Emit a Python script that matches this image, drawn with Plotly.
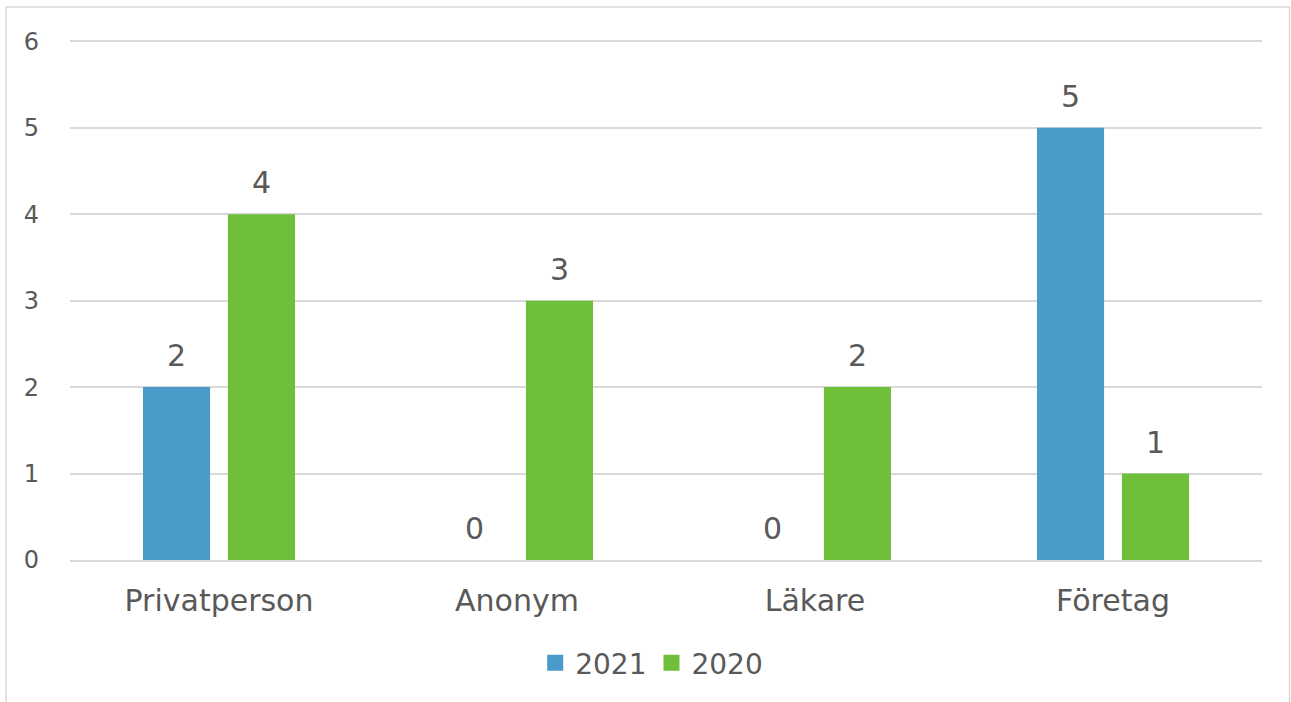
import plotly.graph_objects as go

categories = ["Privatperson", "Anonym", "Läkare", "Företag"]
series_2021 = [2, 0, 0, 5]
series_2020 = [4, 3, 2, 1]
y_ticks = [0, 1, 2, 3, 4, 5, 6]

BLUE = "#4A9BCA"
GREEN = "#6FBF3A"
TEXT = "#595959"
GRID = "#D9D9D9"
FONT = "'DejaVu Sans', sans-serif"
FS = 30
FS_TICK = 24

series = [("2021", series_2021, BLUE, "a"), ("2020", series_2020, GREEN, "b")]

fig = go.Figure()
for name, vals, col, grp in series:
    fig.add_trace(go.Bar(name=name, x=categories, y=vals, marker_color=col,
                         offsetgroup=grp, marker_line_width=0, showlegend=False))
for name, vals, col, grp in series:
    fig.add_trace(go.Scatter(x=categories, y=vals, mode="markers+text", text=[str(v) for v in vals],
                             textposition="top center", offsetgroup=grp,
                             marker=dict(size=20, opacity=0), showlegend=False, hoverinfo="skip",
                             textfont=dict(size=FS, color=TEXT, family=FONT), cliponaxis=False))
for name, vals, col, grp in series:
    fig.add_trace(go.Scatter(x=[None], y=[None], mode="markers", name=name, offsetgroup=grp,
                             marker=dict(symbol="square", size=18, color=col), showlegend=True))

W, H = 1291, 702
L, R, T, B = 70, 29, 40, 142
pw, ph = W - L - R, H - T - B

fig.update_layout(
    width=W, height=H,
    margin=dict(l=L, r=R, t=T, b=B),
    paper_bgcolor="white", plot_bgcolor="white",
    barmode="group", bargap=0.43, bargroupgap=0.21,
    scattermode="group", scattergap=0.43,
    font=dict(family=FONT, color=TEXT, size=FS),
    showlegend=True,
    legend=dict(orientation="h", x=0.488, xanchor="center", y=-0.198, yanchor="middle",
                font=dict(size=28, color=TEXT, family=FONT), itemsizing="trace",
                itemwidth=30, traceorder="normal", tracegroupgap=0),
    xaxis=dict(showgrid=False, showline=True, linecolor=GRID, linewidth=1.5,
               ticks="", ticklabelstandoff=13, tickfont=dict(size=FS, color=TEXT, family=FONT)),
    yaxis=dict(range=[0, 6.015], tickvals=y_ticks, showgrid=True, gridcolor=GRID,
               gridwidth=1.5, zeroline=False, showline=False, ticks="",
               ticklabelstandoff=30, tickfont=dict(size=FS_TICK, color=TEXT, family=FONT)),
    shapes=[dict(type="rect", xref="paper", yref="paper",
                 x0=(6 - L) / pw, x1=(1289.5 - L) / pw,
                 y0=(T + ph - 720) / ph, y1=(T + ph - 7) / ph,
                 line=dict(color=GRID, width=1.5), fillcolor="rgba(0,0,0,0)", layer="below")],
)

fig.write_html("out.html", config={"displayModeBar": False},
               post_script="document.body.style.margin='0px';")
